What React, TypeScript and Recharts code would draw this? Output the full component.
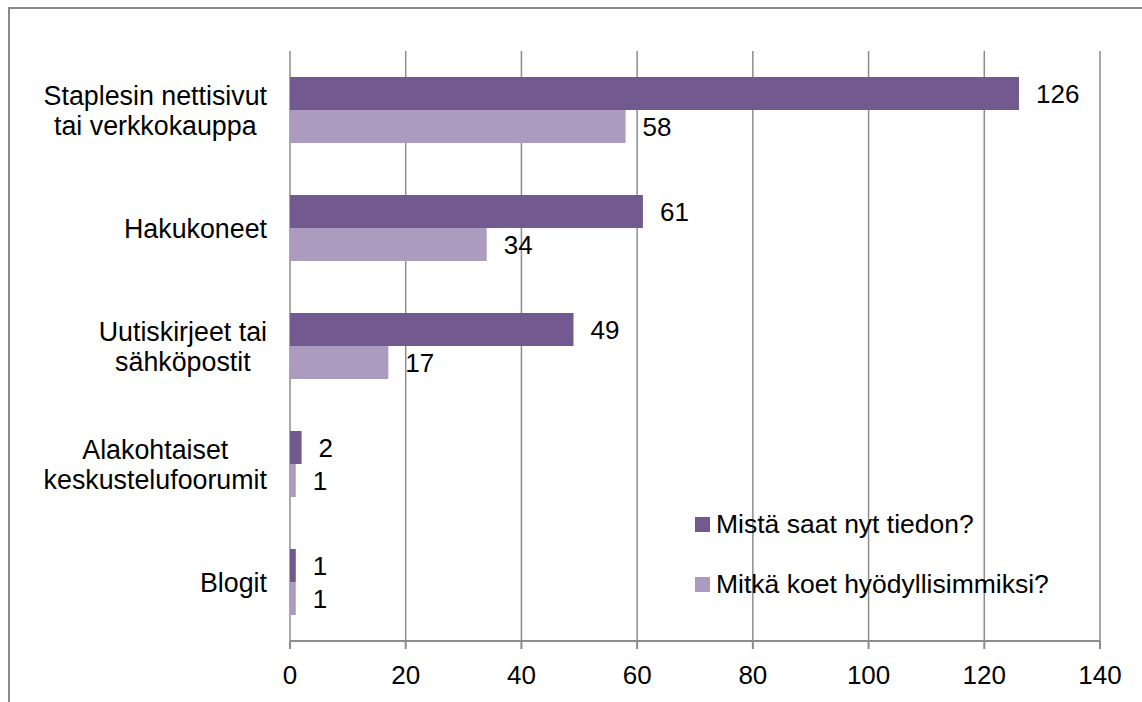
import React from 'react';
import { BarChart, Bar, XAxis, YAxis, CartesianGrid, LabelList, Legend } from 'recharts';

const categories = [
  'Staplesin nettisivut\ntai verkkokauppa',
  'Hakukoneet',
  'Uutiskirjeet tai\nsähköpostit',
  'Alakohtaiset\nkeskustelufoorumit',
  'Blogit',
];
const nowValues = [126, 61, 49, 2, 1];
const usefulValues = [58, 34, 17, 1, 1];
const seriesNames = ['Mistä saat nyt tiedon?', 'Mitkä koet hyödyllisimmiksi?'];
const xTicks = [0, 20, 40, 60, 80, 100, 120, 140];
const bandEdges = [0, 1, 2, 3, 4, 5];

const data = categories.map((name, i) => ({ name, now: nowValues[i], useful: usefulValues[i] }));

const FONT = '"Liberation Sans", Arial, sans-serif';
const DARK = '#72598F';
const LIGHT = '#AA9BBF';
const GRID = '#8C8C8C';
const CAT_SIZE = 26.8;

let ctx: CanvasRenderingContext2D | null = null;
const textWidth = (s: string) => {
  if (!ctx) {
    ctx = document.createElement('canvas').getContext('2d');
  }
  if (!ctx) return s.length * 13;
  ctx.font = `${CAT_SIZE}px ${FONT}`;
  return ctx.measureText(s).width;
};

// wrapped category names: block right-aligned, each line centred in the block
const CategoryTick = (props: any) => {
  const { x, y, payload } = props;
  const lines: string[] = String(payload.value).split('\n');
  const blockW = Math.max(...lines.map(textWidth));
  const cx = x - blockW / 2;
  const lh = 30;
  const y0 = y - ((lines.length - 1) * lh) / 2;
  return (
    <text textAnchor="middle" fontSize={CAT_SIZE} fontFamily={FONT} fill="#000">
      {lines.map((l, i) => (
        <tspan key={i} x={cx} y={y0 + i * lh} dy="0.355em">
          {l}
        </tspan>
      ))}
    </text>
  );
};

const LegendBox = () => (
  <div style={{ fontFamily: FONT, fontSize: 26.5, color: '#000' }}>
    {seriesNames.map((n, i) => (
      <div key={n} style={{ height: 30, lineHeight: '30px', marginBottom: 30, display: 'flex', alignItems: 'center', whiteSpace: 'nowrap' }}>
        <span style={{ width: 15, height: 15, background: i === 0 ? DARK : LIGHT, marginRight: 6, display: 'inline-block' }} />
        <span>{n}</span>
      </div>
    ))}
  </div>
);

export default function App() {
  return (
    <div style={{ position: 'absolute', left: 0, top: 0, width: 1142, height: 702, overflow: 'hidden', background: '#fff' }}>
      <div
        style={{
          position: 'absolute',
          left: 8,
          top: 7,
          width: 1300,
          height: 900,
          borderLeft: '2px solid #8A8A8A',
          borderTop: '2px solid #8A8A8A',
        }}
      />
      <BarChart
        width={1142}
        height={702}
        data={data}
        layout="vertical"
        margin={{ top: 51, right: 42, bottom: 31, left: 0 }}
        barGap={0}
        style={{ position: 'absolute', left: 0, top: 0 }}
      >
        <CartesianGrid horizontal={false} vertical stroke={GRID} strokeWidth={1.5} />
        <XAxis
          type="number"
          domain={[0, 140]}
          ticks={xTicks}
          interval={0}
          height={30}
          axisLine={{ stroke: GRID, strokeWidth: 2 }}
          tickLine={{ stroke: GRID, strokeWidth: 2 }}
          tickSize={8}
          tickMargin={17}
          tick={{ fill: '#000', fontSize: 26, fontFamily: FONT }}
        />
        <YAxis
          yAxisId="edge"
          type="number"
          domain={[0, 5]}
          ticks={bandEdges}
          width={0}
          tick={false}
          tickSize={8}
          axisLine={{ stroke: GRID, strokeWidth: 2 }}
          tickLine={{ stroke: GRID, strokeWidth: 2 }}
        />
        <YAxis
          yAxisId="cat"
          type="category"
          dataKey="name"
          width={290}
          axisLine={false}
          tickLine={false}
          tickSize={0}
          tickMargin={23}
          interval={0}
          tick={<CategoryTick />}
        />
        <Legend
          layout="vertical"
          align="center"
          verticalAlign="middle"
          content={<LegendBox />}
          wrapperStyle={{ left: 695, top: 509, width: 420, bottom: 'auto', right: 'auto' }}
        />
        <Bar yAxisId="cat" dataKey="now" name={seriesNames[0]} fill={DARK} barSize={33} isAnimationActive={false}>
          <LabelList dataKey="now" position="right" offset={17} fill="#000" fontSize={26} fontFamily={FONT} />
        </Bar>
        <Bar yAxisId="cat" dataKey="useful" name={seriesNames[1]} fill={LIGHT} barSize={33} isAnimationActive={false}>
          <LabelList dataKey="useful" position="right" offset={17} fill="#000" fontSize={26} fontFamily={FONT} />
        </Bar>
      </BarChart>
    </div>
  );
}
